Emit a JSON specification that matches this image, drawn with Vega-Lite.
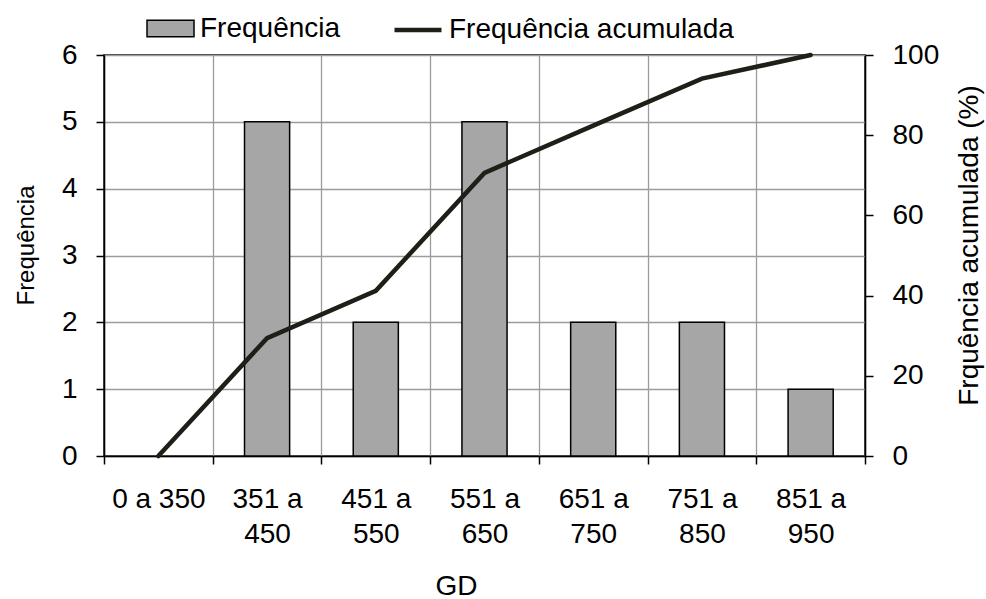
{
  "$schema": "https://vega.github.io/schema/vega-lite/v6.json",
  "width": 761,
  "height": 401,
  "autosize": {"type": "none"},
  "padding": {"left": 104, "top": 55, "right": 121, "bottom": 143},
  "background": "white",
  "config": {
    "font": "Liberation Sans",
    "view": {"stroke": "black", "strokeWidth": 1.5},
    "axis": {
      "labelFont": "Liberation Sans",
      "titleFont": "Liberation Sans",
      "labelFontSize": 28,
      "titleFontSize": 28,
      "labelColor": "black",
      "titleColor": "black",
      "titleFontWeight": "normal",
      "domainColor": "black",
      "domainWidth": 1.5,
      "tickColor": "black",
      "tickWidth": 1.5,
      "tickSize": 8,
      "gridColor": "#9c9c9c",
      "gridWidth": 1.3
    },
    "legend": {
      "title": null,
      "orient": "none",
      "direction": "horizontal",
      "padding": 0,
      "labelFont": "Liberation Sans",
      "labelFontSize": 28,
      "labelColor": "black",
      "labelLimit": 0,
      "labelOffset": 5,
      "symbolSize": 2209,
      "symbolOpacity": 1
    }
  },
  "data": {
    "values": [
      {"GD": "0 a 350", "Frequência": 0, "Acumulada": 0},
      {"GD": "351 a 450", "Frequência": 5, "Acumulada": 29.4},
      {"GD": "451 a 550", "Frequência": 2, "Acumulada": 41.2},
      {"GD": "551 a 650", "Frequência": 5, "Acumulada": 70.6},
      {"GD": "651 a 750", "Frequência": 2, "Acumulada": 82.4},
      {"GD": "751 a 850", "Frequência": 2, "Acumulada": 94.1},
      {"GD": "851 a 950", "Frequência": 1, "Acumulada": 100}
    ]
  },
  "encoding": {
    "x": {
      "field": "GD",
      "type": "nominal",
      "sort": ["0 a 350", "351 a 450", "451 a 550", "551 a 650", "651 a 750", "751 a 850", "851 a 950"],
      "scale": {"paddingInner": 0, "paddingOuter": 0},
      "axis": {
        "title": "GD",
        "labelAngle": 0,
        "labelExpr": "length(datum.label) > 7 ? [slice(datum.label, 0, 5), slice(datum.label, 6)] : datum.label",
        "labelLineHeight": 35,
        "labelPadding": 21,
        "labelBaseline": "top",
        "tickBand": "extent",
        "grid": true,
        "titleX": 352,
        "titleY": 138,
        "titleBaseline": "alphabetic",
        "titleAlign": "center"
      }
    }
  },
  "layer": [
    {
      "transform": [{"filter": "datum['Frequência'] > 0"}],
      "mark": {"type": "bar", "color": "#a6a6a6", "stroke": "black", "strokeWidth": 1.5, "width": {"band": 0.415}},
      "encoding": {
        "y": {
          "field": "Frequência",
          "type": "quantitative",
          "scale": {"domain": [0, 6]},
          "axis": {
            "title": "Frequência",
            "titleFontSize": 24,
            "values": [0, 1, 2, 3, 4, 5, 6],
            "grid": true,
            "labelPadding": 19,
            "titleAngle": -90,
            "titleX": -71,
            "titleY": 190,
            "titleAlign": "center",
            "titleBaseline": "alphabetic"
          }
        },
        "color": {
          "datum": "Frequência",
          "type": "nominal",
          "scale": {"domain": ["Frequência"], "range": ["#a6a6a6"]},
          "legend": {
            "legendX": 42,
            "legendY": -51,
            "symbolType": "M-1,-0.35H1V0.35H-1Z",
            "symbolFillColor": "#a6a6a6",
            "symbolStrokeColor": "black",
            "symbolStrokeWidth": 1.5
          }
        }
      }
    },
    {
      "mark": {"type": "line", "strokeWidth": 4.5, "strokeCap": "round", "strokeJoin": "miter"},
      "encoding": {
        "y": {
          "field": "Acumulada",
          "type": "quantitative",
          "scale": {"domain": [0, 100]},
          "axis": {
            "orient": "right",
            "title": "Frqu\u00eancia acumulada (%)",
            "values": [0, 20, 40, 60, 80, 100],
            "grid": false,
            "labelPadding": 19,
            "titleAngle": -90,
            "titleX": 112,
            "titleY": 190,
            "titleAlign": "center",
            "titleBaseline": "alphabetic"
          }
        },
        "color": {
          "datum": "Frequência acumulada",
          "type": "nominal",
          "scale": {"domain": ["Frequência acumulada"], "range": ["#1f1e17"]},
          "legend": {
            "legendX": 288,
            "legendY": -51,
            "symbolType": "stroke",
            "symbolStrokeColor": "#1f1e17",
            "symbolStrokeWidth": 4.5
          }
        }
      }
    }
  ],
  "resolve": {"scale": {"y": "independent", "color": "independent"}, "legend": {"color": "independent"}}
}
